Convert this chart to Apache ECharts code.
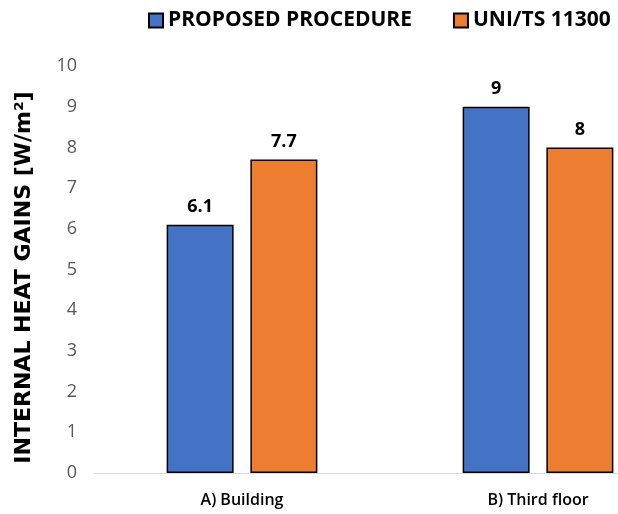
<!DOCTYPE html>
<html><head><meta charset="utf-8">
<script src="https://cdn.jsdelivr.net/npm/echarts@6/dist/echarts.min.js"></script>
<style>html,body{margin:0;padding:0;background:#fff;overflow:hidden}#c{width:700px;height:514px}</style>
</head><body><div id="c"></div>
<script>
var categories = ['A) Building', 'B) Third floor'];
var seriesNames = ['PROPOSED PROCEDURE', 'UNI/TS 11300'];
var proposed = [6.1, 9];
var uniTs = [7.7, 8];
var yTicks = [0, 1, 2, 3, 4, 5, 6, 7, 8, 9, 10];

var chart = echarts.init(document.getElementById('c'));
var lblStyle = {show: true, position: 'top', distance: 9, color: '#000', fontWeight: 'bold',
  fontFamily: 'Open Sans, sans-serif', fontSize: 18};
chart.setOption({
  animation: false,
  legend: {
    top: 5, left: 143, itemWidth: 14, itemHeight: 14, itemGap: 41,
    icon: 'rect',
    textStyle: {fontFamily: 'Open Sans, sans-serif', fontWeight: 'bold', fontSize: 21, color: '#000'},
    data: seriesNames
  },
  grid: {left: 94, top: 66, width: 592, height: 407, containLabel: false},
  xAxis: {
    type: 'category', data: categories,
    axisLine: {lineStyle: {color: '#d9d9d9', width: 1}},
    axisTick: {show: false},
    axisLabel: {color: '#000', fontSize: 16, margin: 19, fontFamily: 'Open Sans, sans-serif', fontWeight: 600}
  },
  yAxis: {
    type: 'value', min: yTicks[0], max: yTicks[yTicks.length - 1], interval: 1,
    name: 'INTERNAL HEAT GAINS [W/m²]', nameLocation: 'middle', nameGap: 59, nameRotate: 90,
    nameTextStyle: {fontFamily: 'DejaVu Sans, sans-serif', fontWeight: 'bold', fontSize: 22, color: '#000', padding: [0, 16, 0, 0]},
    axisLine: {show: false}, axisTick: {show: false}, splitLine: {show: false},
    axisLabel: {color: '#595959', fontSize: 18, margin: 17, fontFamily: 'Open Sans, sans-serif'}
  },
  series: [
    {name: seriesNames[0], type: 'bar', data: proposed, barWidth: 67, barGap: '25%',
      itemStyle: {color: '#4472c4', borderColor: '#000', borderWidth: 1.5}, label: lblStyle},
    {name: seriesNames[1], type: 'bar', data: uniTs, barWidth: 67,
      itemStyle: {color: '#ed7d31', borderColor: '#000', borderWidth: 1.5}, label: lblStyle}
  ]
});
</script></body></html>
